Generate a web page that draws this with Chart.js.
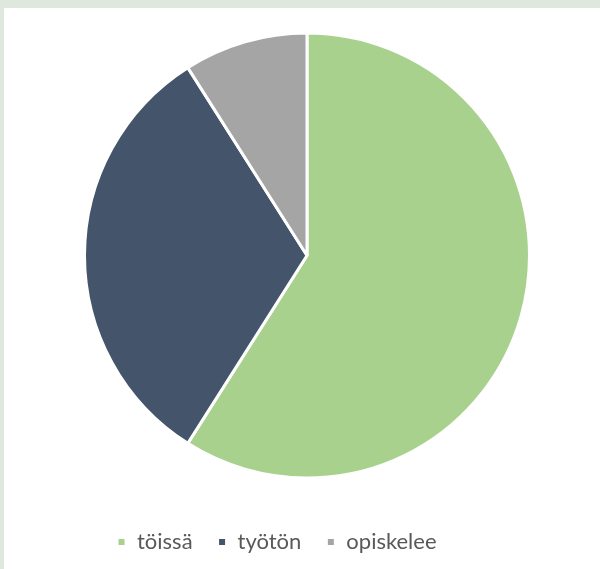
<!DOCTYPE html>
<html>
<head>
<meta charset="utf-8">
<script src="https://cdn.jsdelivr.net/npm/chart.js@4"></script>
<style>
  html, body { margin: 0; padding: 0; overflow: hidden; }
  body { background: #dee8dd; width: 600px; height: 569px; position: relative; }
  #wrap { position: absolute; left: 4px; top: 8px; width: 596px; height: 567px; background: #ffffff; }
</style>
</head>
<body>
<div id="wrap"><canvas id="pie"></canvas></div>
<script>
var categories = ['töissä', 'työtön', 'opiskelee'];
var shares = [59, 32, 9];
var colours = ['#a9d18e', '#44546a', '#a5a5a5'];

// legend sits a bit right of the pie's left edge, like in the original
var legendNudge = {
  id: 'legendNudge',
  afterLayout: function(chart) {
    chart.legend.left += 9;
  }
};

var myChart = new Chart("pie", {
  type: "pie",
  data: {
    labels: categories,
    datasets: [
      {
        data: shares,
        backgroundColor: colours,
        borderColor: '#ffffff',
        borderWidth: 3
      }
    ]
  },
  options: {
    responsive: true,
    maintainAspectRatio: false,
    animation: false,
    layout: {
      padding: { top: 23, left: 79, right: 69, bottom: 12 }
    },
    plugins: {
      tooltip: { enabled: false },
      legend: {
        position: 'bottom',
        align: 'start',
        title: {
          display: true,
          text: ' ',
          font: { size: 10 },
          padding: { top: 14, bottom: 0 }
        },
        labels: {
          boxWidth: 9,
          boxHeight: 9,
          padding: 25,
          color: '#595959',
          font: { family: 'Lato', size: 22 }
        }
      }
    }
  },
  plugins: [legendNudge]
});
</script>
</body>
</html>
